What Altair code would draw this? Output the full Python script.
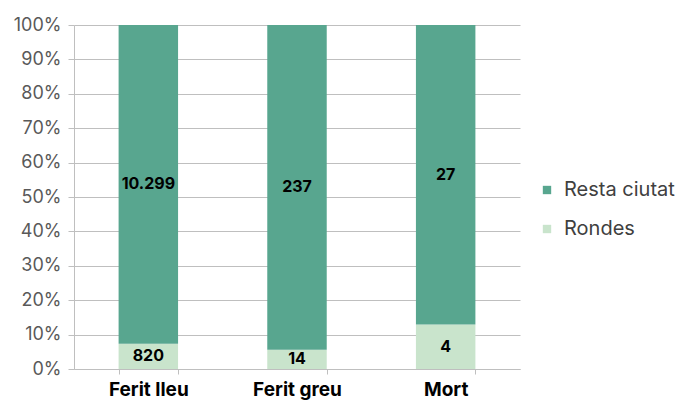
import altair as alt
import pandas as pd

categories = ["Ferit lleu", "Ferit greu", "Mort"]
series = ["Resta ciutat", "Rondes"]
resta_ciutat = [10299, 237, 27]
rondes = [820, 14, 4]
y_ticks = [0, 0.1, 0.2, 0.3, 0.4, 0.5, 0.6, 0.7, 0.8, 0.9, 1.0]

def fmt(v):
    return f"{v:,}".replace(",", ".")

rows = []
for c, r, o in zip(categories, resta_ciutat, rondes):
    rows.append({"cat": c, "serie": "Rondes", "value": o, "ord": 0, "label": fmt(o)})
    rows.append({"cat": c, "serie": "Resta ciutat", "value": r, "ord": 1, "label": fmt(r)})
df = pd.DataFrame(rows)

FONT = "Inter"
colors = ["#58a68f", "#c9e4cc"]

base = alt.Chart(df).transform_stack(
    stack="value", groupby=["cat"], as_=["y0", "y1"], offset="normalize",
    sort=[alt.SortField("ord", order="ascending")]
).transform_calculate(mid="(datum.y0 + datum.y1) / 2")

x_axis = alt.Axis(labelAngle=0, labelFont=FONT, labelFontSize=19,
                  labelFontWeight="bold", labelColor="#000000",
                  tickBand="extent", tickSize=5, tickColor="#bfbfbf",
                  domainColor="#bfbfbf", labelPadding=6)
x_scale = alt.Scale(paddingInner=0.6, paddingOuter=0.3)

y_axis = alt.Axis(format=".0%", values=y_ticks, labelOverlap=False,
                  labelFont=FONT, labelFontSize=18, labelColor="#595959",
                  tickSize=6, tickColor="#bfbfbf", gridColor="#bfbfbf",
                  domainColor="#bfbfbf", labelPadding=7)
y_scale = alt.Scale(domain=[0, 1])

bars = base.mark_bar().encode(
    x=alt.X("cat:N", sort=categories, title=None, scale=x_scale, axis=x_axis),
    y=alt.Y("y0:Q", title=None, scale=y_scale, axis=y_axis),
    y2="y1:Q",
    color=alt.Color("serie:N", title=None,
                    scale=alt.Scale(domain=series, range=colors),
                    legend=alt.Legend(orient="none", legendX=463, legendY=155,
                                      symbolType="square", symbolSize=70,
                                      symbolStrokeWidth=0,
                                      labelFont=FONT, labelFontSize=20,
                                      labelColor="#404040", labelOffset=7,
                                      rowPadding=19)),
)

texts = base.mark_text(font=FONT, fontSize=16, fontWeight="bold", color="#000000").encode(
    x=alt.X("cat:N", sort=categories, title=None, scale=x_scale, axis=x_axis),
    y=alt.Y("mid:Q", title=None, scale=y_scale, axis=y_axis),
    text="label:N",
)

chart = alt.layer(bars, texts).properties(
    width=446, height=344,
    autosize=alt.AutoSizeParams(type="none"),
    padding={"left": 66, "top": 17, "right": 159, "bottom": 32},
).configure_view(stroke=None)

chart.save("out.html", embed_options={"renderer": "svg", "actions": False})
